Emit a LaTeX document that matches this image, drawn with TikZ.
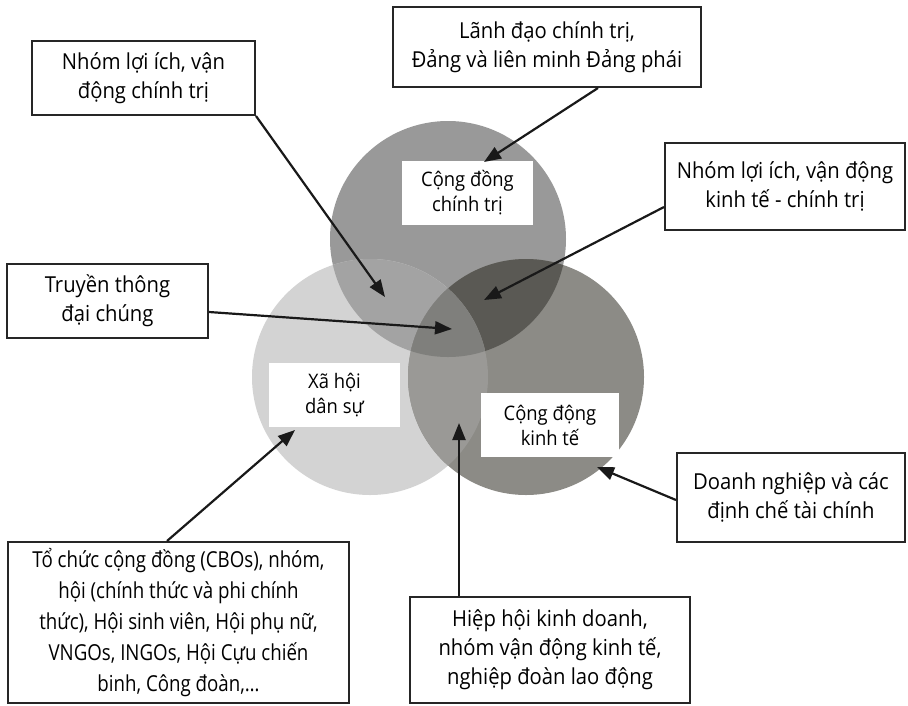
\documentclass[tikz,border=0pt]{standalone}
\usepackage{fontspec}
\setmainfont{Open Sans}[FakeStretch=0.92]
\newfontfamily\narrowfont{Open Sans}[FakeStretch=0.85]
\usetikzlibrary{arrows.meta}
\definecolor{cTop}{HTML}{999999}
\definecolor{cLeft}{HTML}{D3D3D3}
\definecolor{cRight}{HTML}{8C8B86}
\definecolor{cTL}{HTML}{A3A3A3}
\definecolor{cTR}{HTML}{5A5954}
\definecolor{cLR}{HTML}{9A9996}
\definecolor{cAll}{HTML}{7F7F7C}
\tikzset{
  outbox/.style={draw=black!85, line width=2pt, fill=white, align=center, inner sep=0pt,
    font=\fontsize{22}{29}\selectfont},
  inbox/.style={fill=white, align=center, inner sep=0pt,
    font=\fontsize{20}{25}\selectfont},
  arr/.style={line width=2.2pt, draw=black!90, -{Triangle[length=17pt,width=13pt]}}
}
\begin{document}
\begin{tikzpicture}[x=1pt,y=-1pt]
\useasboundingbox (0,0) rectangle (908,705);
% circles
\def\circT{(448,239) circle (118)}
\def\circL{(370,377) circle (118)}
\def\circR{(526,377) circle (118)}
\fill[cTop] \circT;
\fill[cLeft] \circL;
\fill[cRight] \circR;
\begin{scope}
  \clip \circT; \fill[cTL] \circL;
\end{scope}
\begin{scope}
  \clip \circT; \fill[cTR] \circR;
\end{scope}
\begin{scope}
  \clip \circL; \fill[cLR] \circR;
\end{scope}
\begin{scope}
  \clip \circT; \clip \circL; \fill[cAll] \circR;
\end{scope}
% inner labels
\node[inbox, minimum width=131pt, minimum height=64pt] (pc) at (467.5,193) {Cộng đồng\\chính trị};
\node[inbox, minimum width=131pt, minimum height=64pt] (cs) at (334.5,395) {Xã hội\\dân sự};
\node[inbox, minimum width=138pt, minimum height=64pt] (ec) at (550,425) {Cộng động\\kinh tế};
% outer boxes
\node[outbox, minimum width=223pt, minimum height=74pt] (A) at (143.5,78) {Nhóm lợi ích, vận\\động chính trị};
\node[outbox, minimum width=308pt, minimum height=80pt] (B) at (547,47) {Lãnh đạo chính trị,\\Đảng và liên minh Đảng phái};
\node[outbox, minimum width=240pt, minimum height=87pt] (C) at (785,186.5) {Nhóm lợi ích, vận động\\kinh tế - chính trị};
\node[outbox, minimum width=201pt, minimum height=74pt] (D) at (107.5,301) {Truyền thông\\đại chúng};
\node[outbox, minimum width=228pt, minimum height=89pt] (E) at (791,497.5) {Doanh nghiệp và các\\định chế tài chính};
\node[outbox, minimum width=341pt, minimum height=161pt, font=\narrowfont\fontsize{22}{31}\selectfont] (F) at (178.5,622.5) {Tổ chức cộng đồng (CBOs), nhóm,\\hội (chính thức và phi chính\\thức), Hội sinh viên, Hội phụ nữ,\\VNGOs, INGOs, Hội Cựu chiến\\binh, Công đoàn,…};
\node[outbox, minimum width=280pt, minimum height=106pt] (G) at (550,650) {Hiệp hội kinh doanh,\\nhóm vận động kinh tế,\\nghiệp đoàn lao động};
% arrow tips
\coordinate (tA) at (385,297);
\coordinate (tB) at (484,162);
\coordinate (tC) at (484,300);
\coordinate (tD) at (452,329);
\coordinate (tE) at (597,467);
\coordinate (tF) at (295,430);
\coordinate (tG) at (459,423);
\draw[arr] (A.south east) -- (tA);
\draw[arr] ([xshift=51pt]B.south) -- (tB);
\draw[arr] ([yshift=-20.5pt]C.west) -- (tC);
\draw[arr] ([yshift=-11pt]D.east) -- (tD);
\draw[arr] ([yshift=-2.5pt]E.west) -- (tE);
\draw[arr] ([xshift=-11.5pt]F.north) -- (tF);
\draw[arr] ([xshift=-91pt]G.north) -- (tG);
\end{tikzpicture}
\end{document}
